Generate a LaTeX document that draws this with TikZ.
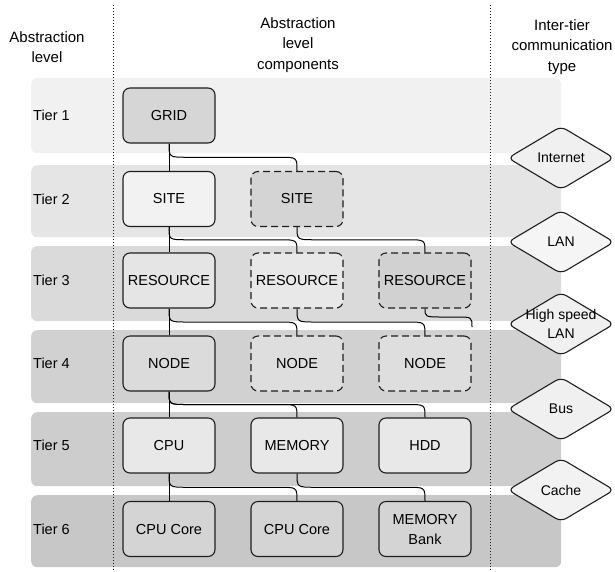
\documentclass[tikz,border=0pt]{standalone}
\usepackage{fontspec}
\setmainfont{Liberation Sans}
\usetikzlibrary{calc}
\definecolor{bandA}{HTML}{F1F1F1}
\definecolor{bandB}{HTML}{E5E5E5}
\definecolor{bandC}{HTML}{DADADA}
\definecolor{bandD}{HTML}{D1D1D1}
\definecolor{bandE}{HTML}{CDCDCD}
\definecolor{bandF}{HTML}{C7C7C7}
\definecolor{edge}{HTML}{1E1E1E}
\begin{document}
\begin{tikzpicture}[x=1pt,y=-1pt,
  band/.style={draw=none, rounded corners=6pt, minimum width=530pt, minimum height=74pt, anchor=north west, inner sep=0pt},
  hdr/.style={align=center, font=\fontsize{15}{20.5}\selectfont, inner sep=0pt},
  tier/.style={anchor=west, font=\fontsize{14.5}{17}\selectfont, inner sep=0pt},
  box/.style={draw=edge, line width=1.1pt, rounded corners=7pt, minimum width=92pt, minimum height=55pt, inner sep=0pt, align=center, font=\fontsize{14.5}{20}\selectfont},
  dbox/.style={box, dash pattern=on 7pt off 4pt},
  dlabel/.style={inner sep=0pt, align=center, font=\fontsize{14}{19}\selectfont},
  diam/.style={draw=edge, line width=1.1pt, rounded corners=6pt, fill=#1},
  sep/.style={draw=edge, line width=0.9pt, dash pattern=on 0.9pt off 2.1pt},
  conn/.style={draw=black, line width=1pt},
  branch/.style={to path={let \p1=(\tikztostart), \p2=(\tikztotarget), \p3=($(\tikztostart)!0.5!(\tikztotarget)$) in (\p1) .. controls (\x1,\y3) .. (\x1+18pt,\y3) -- (\x2-18pt,\y3) .. controls (\x2,\y3) .. (\p2)}}
]
\useasboundingbox (0,0) rectangle (615,571);

% tier bands
\node[band, fill=bandA, minimum height=75pt] (b1) at (31,78) {};
\node[band, fill=bandB, minimum height=72pt] (b2) at (31,165) {};
\node[band, fill=bandC, minimum height=75pt] (b3) at (31,246) {};
\node[band, fill=bandD, minimum height=73pt] (b4) at (31,330) {};
\node[band, fill=bandE, minimum height=74pt] (b5) at (31,412) {};
\node[band, fill=bandF, minimum height=72pt] (b6) at (31,495) {};

% dotted separators
\coordinate (s1t) at (113,5);
\coordinate (s1b) at (113,571);
\coordinate (s2t) at (490,5);
\coordinate (s2b) at (490,571);
\draw[sep] (s1t) -- (s1b);
\draw[sep] (s2t) -- (s2b);

% headers
\node[hdr] (h1) at (47,47) {Abstraction\\level};
\node[hdr] (h2) at (298,45) {Abstraction\\level\\components};
\node[hdr] (h3) at (562,47) {Inter-tier\\communication\\type};

% tier labels
\node[tier] (t1) at (33,115.5) {Tier 1};
\node[tier] (t2) at (33,199) {Tier 2};
\node[tier] (t3) at (33,280.5) {Tier 3};
\node[tier] (t4) at (33,363.5) {Tier 4};
\node[tier] (t5) at (33,445.5) {Tier 5};
\node[tier] (t6) at (33,529) {Tier 6};

% component boxes
\node[box, fill=black!16] (grid) at (169,115.5) {GRID};
\node[box, fill=black!5] (site1) at (169,199) {SITE};
\node[dbox, fill=black!17] (site2) at (297,199) {SITE};
\node[box, fill=black!10] (res1) at (169,280.5) {RESOURCE};
\node[dbox, fill=black!9] (res2) at (297,280.5) {RESOURCE};
\node[dbox, fill=black!18] (res3) at (425,280.5) {RESOURCE};
\node[box, fill=black!14] (node1) at (169,363.5) {NODE};
\node[dbox, fill=black!13] (node2) at (297,363.5) {NODE};
\node[dbox, fill=black!13] (node3) at (425,363.5) {NODE};
\node[box, fill=black!9] (cpu) at (169,445.5) {CPU};
\node[box, fill=black!9] (mem) at (297,445.5) {MEMORY};
\node[box, fill=black!9] (hdd) at (425,445.5) {HDD};
\node[box, fill=black!17] (core1) at (169,529) {CPU Core};
\node[box, fill=black!17] (core2) at (297,529) {CPU Core};
\node[box, fill=black!17] (bank) at (425,529) {MEMORY\\Bank};

% connectors
\coordinate (offr) at (472,327);
\draw[conn] (grid.south) -- (site1.north);
\draw[conn] (grid.south) to[branch] (site2.north);
\draw[conn] (site1.south) -- (res1.north);
\draw[conn] (site1.south) to[branch] (res2.north);
\draw[conn] (site2.south) to[branch] (res3.north);
\draw[conn] (res1.south) -- (node1.north);
\draw[conn] (res1.south) to[branch] (node2.north);
\draw[conn] (res2.south) to[branch] (node3.north);
\draw[conn] (res3.south) .. controls (425,317) .. (443,317) -- (456,317) .. controls (472,317) .. (offr);
\draw[conn] (node1.south) -- (cpu.north);
\draw[conn] (node1.south) to[branch] (mem.north);
\draw[conn] (node1.south) to[branch] (hdd.north);
\draw[conn] (cpu.south) -- (core1.north);
\draw[conn] (cpu.south) to[branch] (core2.north);
\draw[conn] (mem.south) to[branch] (bank.north);

% communication type diamonds (explicit corners)
\foreach \n/\cy/\f in {1/158/6, 2/242/4, 3/324/6, 4/409/6, 5/490/5}{
  \coordinate (dw\n) at (508,\cy-0);
  \coordinate (dn\n) at (561,\cy-31.5);
  \coordinate (de\n) at (614,\cy-0);
  \coordinate (ds\n) at (561,\cy+31.5);
  \draw[diam=black!\f] (dw\n) -- (dn\n) -- (de\n) -- (ds\n) -- cycle;
}
\node[dlabel] (l1) at (561,158) {Internet};
\node[dlabel] (l2) at (561,242) {LAN};
\node[dlabel] (l3) at (561,324) {High speed\\LAN};
\node[dlabel] (l4) at (561,409) {Bus};
\node[dlabel] (l5) at (561,490) {Cache};
\end{tikzpicture}
\end{document}
